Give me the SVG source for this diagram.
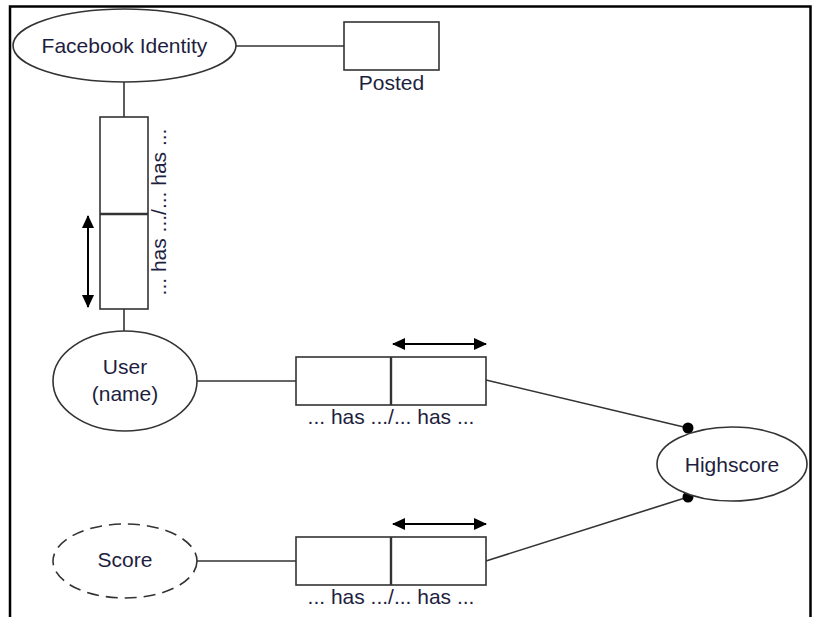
<svg xmlns="http://www.w3.org/2000/svg" width="816" height="617" viewBox="0 0 816 617">
  <defs>
    <marker id="tri" viewBox="0 0 13 12" refX="12" refY="6" markerWidth="13" markerHeight="12" markerUnits="userSpaceOnUse" orient="auto-start-reverse">
      <path d="M0,0 L13,6 L0,12 Z" fill="#000"/>
    </marker>
    <style>
      .frame { fill: none; stroke: #000; stroke-width: 2.5; }
      .shape { fill: #fff; stroke: #333; stroke-width: 1.6; }
      .dashed { stroke-dasharray: 12 7; }
      .line { fill: none; stroke: #333; stroke-width: 1.6; }
      .divider { stroke: #333; stroke-width: 2.4; }
      .arrow { stroke: #000; stroke-width: 2; marker-start: url(#tri); marker-end: url(#tri); }
      .lbl { font-family: "Liberation Sans", Arial, sans-serif; font-size: 21px; fill: #1e1e40; text-anchor: middle; }
      .dot { fill: #000; }
    </style>
  </defs>

  <!-- page border, open at the bottom -->
  <path class="frame" d="M10,617 V6.5 H810.5 V617"/>

  <!-- connectors -->
  <g id="connectors">
    <line class="line" x1="236" y1="46" x2="344" y2="46"/>
    <line class="line" x1="124" y1="82" x2="124" y2="117"/>
    <line class="line" x1="124" y1="309" x2="124" y2="331"/>
    <line class="line" x1="197" y1="381" x2="296" y2="381"/>
    <line class="line" x1="197" y1="561" x2="296" y2="561"/>
    <line class="line" x1="486" y1="380" x2="688" y2="428"/>
    <line class="line" x1="486" y1="561" x2="688" y2="497"/>
    <circle class="dot" cx="688" cy="428" r="5.5"/>
    <circle class="dot" cx="688" cy="497" r="5.5"/>
  </g>

  <g id="facebook-identity">
    <ellipse class="shape" cx="124.5" cy="45.5" rx="111.5" ry="36.5"/>
    <text class="lbl" x="124.5" y="53">Facebook Identity</text>
  </g>

  <g id="posted">
    <rect class="shape" x="344" y="22" width="95" height="48"/>
    <text class="lbl" x="391.5" y="89.5">Posted</text>
  </g>

  <g id="identity-user-fact">
    <rect class="shape" x="100" y="117" width="48" height="192"/>
    <line class="divider" x1="100" y1="214" x2="148" y2="214"/>
    <line class="arrow" x1="88" y1="216" x2="88" y2="307"/>
    <text class="lbl" transform="translate(166,212) rotate(-90)" x="0" y="0">... has .../... has ...</text>
  </g>

  <g id="user">
    <ellipse class="shape" cx="125" cy="381" rx="72" ry="50"/>
    <text class="lbl" x="125" y="374">User</text>
    <text class="lbl" x="125" y="401">(name)</text>
  </g>

  <g id="user-highscore-fact">
    <rect class="shape" x="296" y="357" width="190" height="48"/>
    <line class="divider" x1="391" y1="357" x2="391" y2="405"/>
    <line class="arrow" x1="393" y1="344" x2="486" y2="344"/>
    <text class="lbl" x="391" y="424">... has .../... has ...</text>
  </g>

  <g id="score">
    <ellipse class="shape dashed" cx="125" cy="561" rx="72" ry="37"/>
    <text class="lbl" x="125" y="566.5">Score</text>
  </g>

  <g id="score-highscore-fact">
    <rect class="shape" x="296" y="537" width="190" height="48"/>
    <line class="divider" x1="391" y1="537" x2="391" y2="585"/>
    <line class="arrow" x1="393" y1="524" x2="486" y2="524"/>
    <text class="lbl" x="391" y="604">... has .../... has ...</text>
  </g>

  <g id="highscore">
    <ellipse class="shape" cx="732" cy="464" rx="75" ry="37"/>
    <text class="lbl" x="732" y="471.5">Highscore</text>
  </g>
</svg>
